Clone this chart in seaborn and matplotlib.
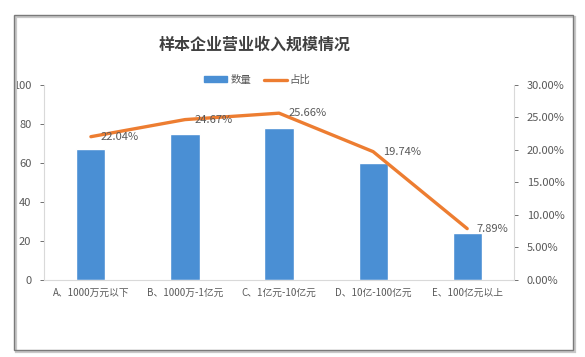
import matplotlib
matplotlib.use("Agg")
import matplotlib.pyplot as plt
import matplotlib.patches as mpatches
from matplotlib.lines import Line2D
import numpy as np
import pandas as pd
import seaborn as sns

categories = ["A、1000万元以下", "B、1000万-1亿元", "C、1亿元-10亿元", "D、10亿-100亿元", "E、100亿元以上"]
counts = [67, 75, 78, 60, 24]
shares = [22.04, 24.67, 25.66, 19.74, 7.89]

sns.set_style("white")
plt.rcParams['font.family'] = ['Noto Sans CJK SC', 'DejaVu Sans']

bar_color = '#4A8FD4'
line_color = '#ED7D31'
text_gray = '#595959'

df = pd.DataFrame({'cat': categories, 'count': counts, 'share': shares})

fig = plt.figure(figsize=(5.85, 3.57), dpi=100)
ax = fig.add_axes([0.075, 0.216, 0.804, 0.546])
sns.barplot(data=df, x='cat', y='count', color=bar_color, width=0.31, ax=ax, saturation=1)
ax.set_ylim(0, 100)
ax.set_yticks([0, 20, 40, 60, 80, 100])
ax.set_xlabel('')
ax.set_ylabel('')
ax.tick_params(axis='y', labelsize=8, colors=text_gray, length=3, width=0.6, pad=6)
ax.tick_params(axis='x', labelsize=7, colors=text_gray, length=0, pad=6)
for s in ['top', 'right']:
    ax.spines[s].set_visible(False)
for s in ['left', 'bottom']:
    ax.spines[s].set_color('#D9D9D9')
    ax.spines[s].set_linewidth(0.8)

ax2 = ax.twinx()
sns.lineplot(x=np.arange(len(shares)), y=shares, color=line_color, linewidth=2.4, ax=ax2)
ax2.set_ylim(0, 30)
ax2.set_yticks([0, 5, 10, 15, 20, 25, 30])
ax2.set_yticklabels(['{:.2f}%'.format(v) for v in [0, 5, 10, 15, 20, 25, 30]])
ax2.tick_params(axis='y', labelsize=8, colors=text_gray, length=3, width=0.6, pad=6)
for s in ['top', 'left', 'bottom']:
    ax2.spines[s].set_visible(False)
ax2.spines['right'].set_color('#D9D9D9')
ax2.spines['right'].set_linewidth(0.8)
ax.set_xlim(-0.5, len(categories) - 0.5)

for i, v in enumerate(shares):
    ax2.annotate('{:.2f}%'.format(v), (i, v), xytext=(7, 0), textcoords='offset points',
                 ha='left', va='center', fontsize=8, color=text_gray)

fig.text(0.436, 0.874, '样本企业营业收入规模情况', ha='center', va='center',
         fontsize=11.5, fontweight='bold', color='#404040')

handles = [mpatches.Patch(color=bar_color), Line2D([0], [0], color=line_color, linewidth=2.4)]
fig.legend(handles, ['数量', '占比'], loc='center', bbox_to_anchor=(0.44, 0.776), ncol=2,
           frameon=False, fontsize=7.5, labelcolor=text_gray, handlelength=2.2,
           handleheight=0.5, columnspacing=1.2, handletextpad=0.3)

# outer frame with a soft shadow on the lower right
fig.patches.append(mpatches.Rectangle((15.5 / 585, 1 - 351.5 / 357), 559 / 585, 335 / 357,
                                      transform=fig.transFigure, facecolor='none',
                                      edgecolor='#C8C8C8', linewidth=1.6, zorder=0))
fig.patches.append(mpatches.Rectangle((14 / 585, 1 - 350 / 357), 559 / 585, 335 / 357,
                                      transform=fig.transFigure, facecolor='none',
                                      edgecolor='#7A7A7A', linewidth=1.0, zorder=1))

fig.savefig('out.png', dpi=100)
